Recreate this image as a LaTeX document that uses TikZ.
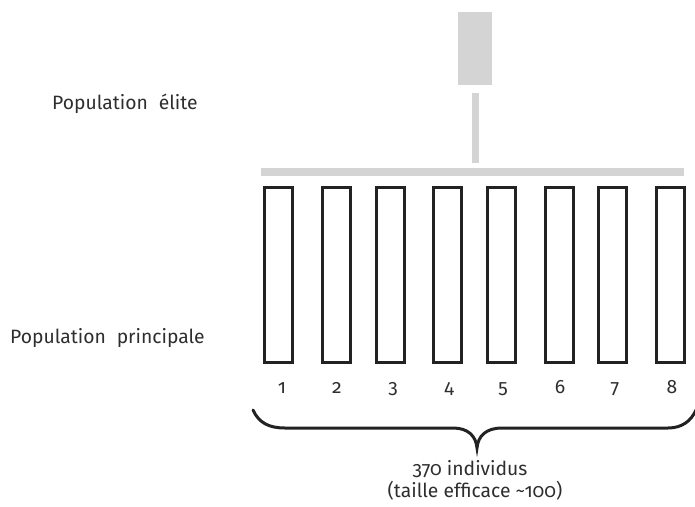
\documentclass[tikz,border=0pt]{standalone}
\usepackage{fontspec}
\setmainfont{Fira Sans}[Numbers=OldStyle]
\definecolor{elitegray}{HTML}{D4D4D4}
\definecolor{txt}{HTML}{2E2E2E}
\definecolor{boxline}{HTML}{222222}
\begin{document}
\begin{tikzpicture}[x=1pt,y=-1pt,
  lbl/.style={text=txt,font=\fontsize{19.3}{22}\selectfont,inner sep=0pt},
  popbox/.style={draw=boxline,line width=3pt,minimum width=28pt,minimum height=175pt,inner sep=0pt},
  bar/.style={fill=elitegray,draw=none}]
\useasboundingbox (0,0) rectangle (695,506);
% elite
\fill[bar] (458,12) rectangle (492,85);
\fill[bar] (472,93) rectangle (479,163);
\fill[bar] (261,168) rectangle (684,176);
% boxes
\foreach \i/\x/\lx in {1/278.5/282,2/336.5/337,3/390.5/393,4/447.5/449,5/501.5/503,6/559/560,7/612.5/615,8/670.5/672}{
  \node[popbox] (b\i) at (\x,275) {};
  \node[lbl,anchor=base] (n\i) at (\lx,393) {\i};
}
% brace
\draw[boxline,line width=3pt,line cap=round]
  (253,410) .. controls (259,423) and (269,428) .. (285,428)
  -- (453,428) .. controls (468,428) and (476,436) .. (477,448)
  .. controls (478,436) and (486,428) .. (502,428)
  -- (668,428) .. controls (682,428) and (691,421) .. (696,410);
% labels
\node[lbl,anchor=base west] (elite) at (52,109) {Population\hspace{0.3em} élite};
\node[lbl,anchor=base west] (princ) at (10,343) {Population\hspace{0.3em} principale};
\node[lbl,anchor=base] (ind) at (470,475) {370 individus};
\node[lbl,anchor=base] (eff) at (475,497) {(taille efficace \textasciitilde100)};
\end{tikzpicture}
\end{document}
